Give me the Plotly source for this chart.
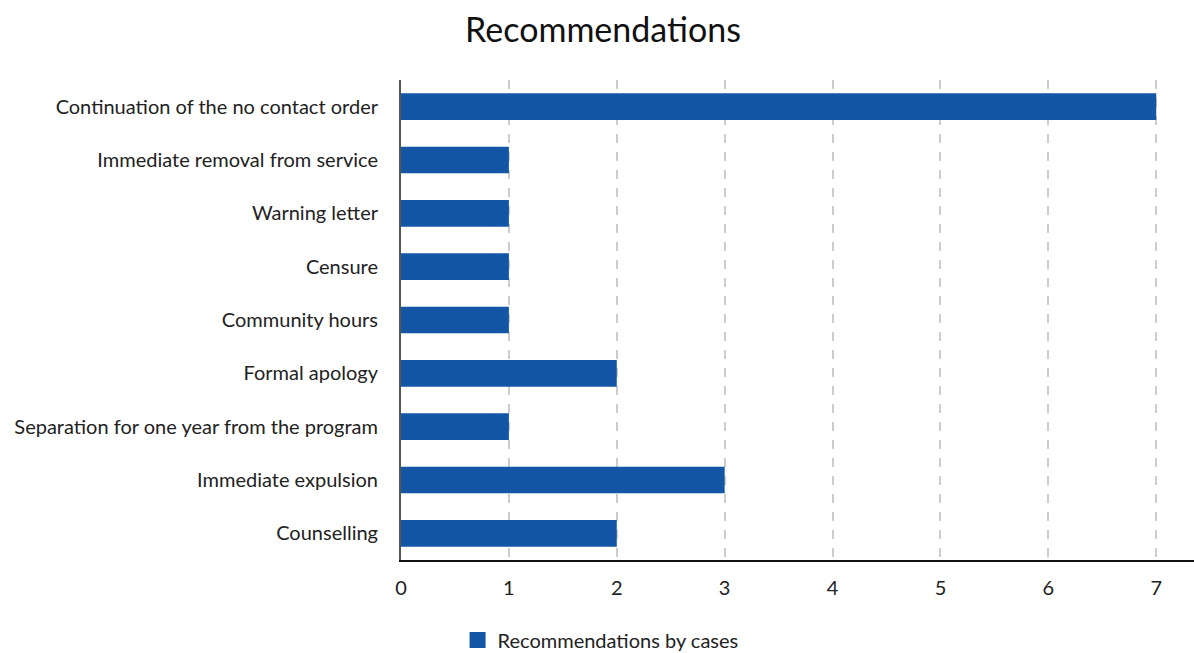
import plotly.graph_objects as go

categories = [
    "Continuation of the no contact order",
    "Immediate removal from service",
    "Warning letter",
    "Censure",
    "Community hours",
    "Formal apology",
    "Separation for one year from the program",
    "Immediate expulsion",
    "Counselling",
]
values = [7, 1, 1, 1, 1, 2, 1, 3, 2]
series_name = "Recommendations by cases"
tick_vals = [0, 1, 2, 3, 4, 5, 6, 7]

color = "#1456a6"
font = "Lato, 'Open Sans', sans-serif"

fig = go.Figure()
fig.add_trace(go.Bar(
    y=categories, x=values, orientation="h",
    marker=dict(color=color, line=dict(width=0)),
    name=series_name, showlegend=False,
))
fig.add_trace(go.Scatter(
    x=[None], y=[None], mode="markers",
    marker=dict(symbol="square", size=18, color=color),
    name=series_name, showlegend=True,
))

fig.update_layout(
    width=1194, height=653,
    margin=dict(l=401, r=0, t=80, b=93),
    paper_bgcolor="white", plot_bgcolor="white",
    font=dict(family=font, size=20, color="#222"),
    title=dict(text="Recommendations", x=603/1194, xanchor="center",
               y=1-30/653, yanchor="middle", yref="container", xref="container",
               font=dict(size=34, color="#111", family=font)),
    bargap=0.5,
    legend=dict(orientation="h", xref="container", yref="container",
                x=0.503, xanchor="center", y=1-640/653, yanchor="middle",
                font=dict(size=20, color="#222"), itemsizing="trace"),
)
fig.update_xaxes(
    range=[0, 7.35], tickvals=tick_vals, showgrid=True,
    gridcolor="#cccccc", griddash="dash", gridwidth=1.5,
    showline=True, linecolor="#111", linewidth=2,
    zeroline=False, ticks="", ticklabelstandoff=9,
    tickfont=dict(size=20, color="#222"),
)
fig.update_yaxes(
    categoryorder="array", categoryarray=categories[::-1],
    showgrid=False, showline=True, linecolor="#555", linewidth=2,
    ticks="", ticklabelstandoff=17, tickfont=dict(size=20, color="#222"),
)

fig.write_html("out.html")
